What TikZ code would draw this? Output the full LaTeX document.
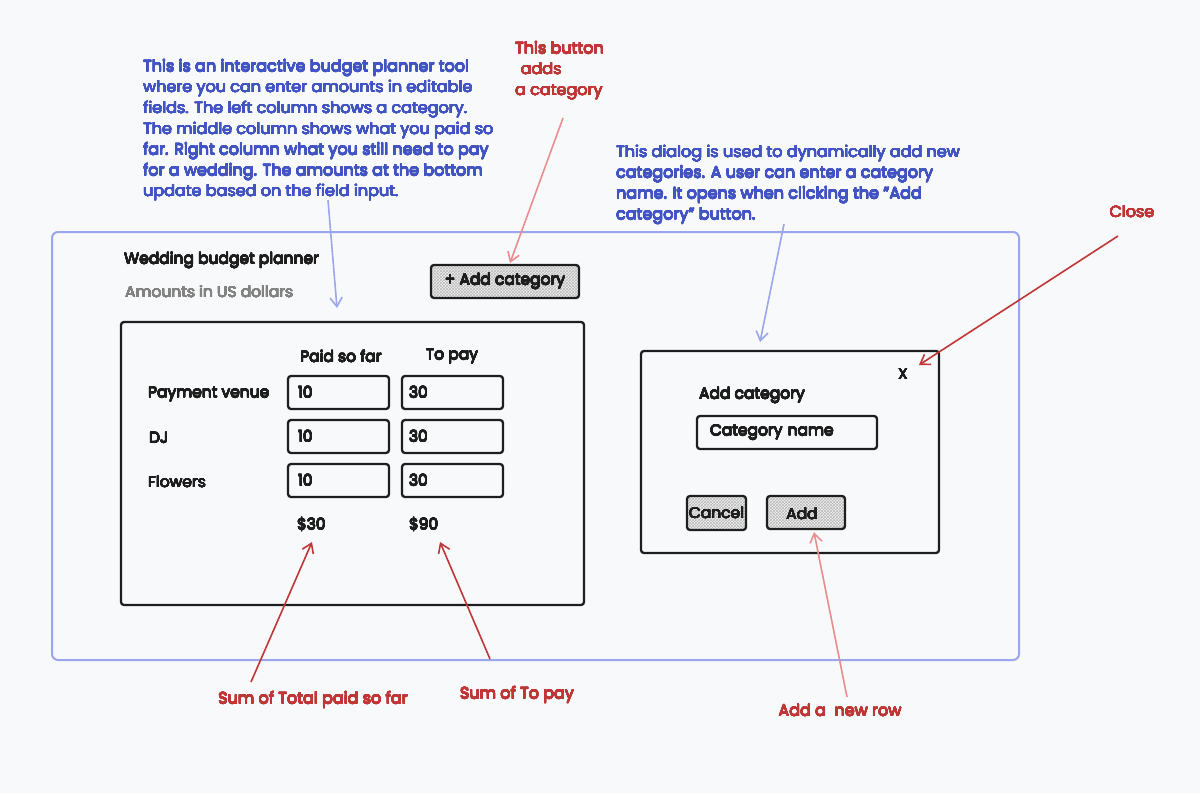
\documentclass[tikz,border=0pt]{standalone}
\usepackage{fontspec}
\setmainfont{Poppins}
\usepackage[copies]{contour}
\contourlength{0.27pt}
\contournumber{16}
\usetikzlibrary{arrows.meta,patterns}
\definecolor{bgc}{RGB}{248,249,251}
\definecolor{annblue}{RGB}{66,84,196}
\definecolor{annred}{RGB}{192,54,54}
\definecolor{pinkred}{RGB}{232,142,142}
\definecolor{lblue}{RGB}{155,166,236}
\definecolor{graytxt}{RGB}{130,130,130}
\definecolor{ink}{RGB}{30,30,30}
\newcommand\fsz[2]{\fontsize{#1}{#2}\selectfont}
\newcommand\hv[1]{\contour{.}{#1}}
\tikzset{
  annb/.style={text=annblue, align=left, font=\fsz{16}{20.8}, inner sep=0, anchor=north west},
  annr/.style={text=annred, align=left, font=\fsz{16}{20.8}, inner sep=0},
  lbl/.style={text=ink, font=\fsz{15.5}{18}, inner sep=0},
  panel/.style={draw=ink, line width=2.3pt, rounded corners=3pt},
  field/.style={draw=ink, line width=2.3pt, rounded corners=3pt, minimum height=33pt, text=ink, font=\fsz{15.5}{18}, align=left, inner ysep=0},
  hatchbtn/.style={draw=ink, line width=2.3pt, rounded corners=3pt, preaction={fill=gray!12}, pattern=crosshatch, pattern color=gray!55, text=ink, font=\fsz{15.5}{18}, inner sep=0},
  redarrow/.style={draw=annred, line width=1.6pt, -{Straight Barb[length=9pt,width=12pt]}},
  pinkarrow/.style={draw=pinkred, line width=1.6pt, -{Straight Barb[length=9pt,width=12pt]}},
  bluearrow/.style={draw=lblue, line width=1.6pt, -{Straight Barb[length=9pt,width=12pt]}},
}
\begin{document}
\begin{tikzpicture}[x=1pt,y=-1pt]
\useasboundingbox (0,0) rectangle (1200,793);
\fill[bgc] (0,0) rectangle (1200,793);

% outer frame
\draw[lblue, line width=2pt, rounded corners=6pt] (52,232) rectangle (1019,660);

% annotations
\node[annb] (ann1) at (143,59.5) {\hv{This is an interactive budget planner tool}\\\hv{where you can enter amounts in editable}\\\hv{fields. The left column shows a category.}\\\hv{The middle column shows what you paid so}\\\hv{far. Right column what you still need to pay}\\\hv{for a wedding. The amounts at the bottom}\\\hv{update based on the field input.}};
\node[annr, anchor=north west] (ann2) at (515,41.5) {\hv{This button}\\\hspace{0.35em}\hv{adds}\\\hv{a category}};
\node[annb] (ann3) at (616,145) {\hv{This dialog is used to dynamically add new}\\\hv{categories. A user can enter a category}\\\hv{name. It opens when clicking the ''Add}\\\hv{category'' button.}};
\node[annr] (closelbl) at (1132,212) {\hv{Close}};

% header
\node[lbl, anchor=west] (title) at (124,260.5) {\hv{Wedding budget planner}};
\node[lbl, anchor=west, text=graytxt] (sub) at (125,292) {\hv{Amounts in US dollars}};
\node[hatchbtn, minimum width=148pt, minimum height=33pt] (addbtn) at (505,281.5) {\hv{+ Add category}};

% main panel
\draw[panel] (121,322) rectangle (584,605);
\node[lbl] (h1) at (341,356.5) {\hv{Paid so far}};
\node[lbl] (h2) at (452,356.5) {\hv{To pay}};
\node[lbl, anchor=west] (r1) at (148,394.5) {\hv{Payment venue}};
\node[lbl, anchor=west] (r2) at (149,438) {\hv{DJ}};
\node[lbl, anchor=west] (r3) at (148,482) {\hv{Flowers}};
\foreach \y/\n in {392.5/1,436.5/2,480.5/3}{
  \node[field, text width=81pt, inner xsep=10pt] (p\n) at (338.5,\y) {\hv{10}};
  \node[field, text width=87pt, inner xsep=7pt] (t\n) at (452.5,\y) {\hv{30}};
}
\node[lbl, anchor=west] (s1) at (297,524.5) {\hv{\$30}};
\node[lbl, anchor=west] (s2) at (409,524.5) {\hv{\$90}};

% dialog
\draw[panel] (641,351) rectangle (939,553);
\node[lbl] (xbtn) at (903,374) {\hv{X}};
\node[lbl, anchor=west] (dtitle) at (699,395.5) {\hv{Add category}};
\node[field, text width=154pt, inner xsep=13pt] (catname) at (787,432.5) {\hv{Category name}};
\node[hatchbtn, minimum width=59pt, minimum height=34pt] (cancel) at (716.5,513) {\hv{Cancel}};
\node[hatchbtn, minimum width=78pt, minimum height=33pt] (addb) at (806,512.5) {};
\node[lbl] (addbtxt) at (802,514) {\hv{Add}};

% bottom labels
\node[annr] (sum1) at (313,700) {\hv{Sum of Total paid so far}};
\node[annr] (sum2) at (517,695) {\hv{Sum of To pay}};
\node[annr] (newrow) at (840,710.5) {\hv{Add a\ \ new row}};

% arrow coordinates
\coordinate (a1s) at (328,200); \coordinate (a1e) at (337,308);
\coordinate (a2s) at (563,118); \coordinate (a2e) at (510,263);
\coordinate (a3s) at (784,224); \coordinate (a3e) at (760,342);
\coordinate (a4s) at (1118,236); \coordinate (a4e) at (919,365);
\coordinate (a5s) at (251,682); \coordinate (a5e) at (312,542);
\coordinate (a6s) at (490,659); \coordinate (a6e) at (440,542);
\coordinate (a7s) at (847,697); \coordinate (a7e) at (814,532);

\draw[bluearrow] (a1s) -- (a1e);
\draw[pinkarrow] (a2s) -- (a2e);
\draw[bluearrow] (a3s) -- (a3e);
\draw[redarrow] (a4s) -- (a4e);
\draw[redarrow] (a5s) -- (a5e);
\draw[redarrow] (a6s) -- (a6e);
\draw[pinkarrow] (a7s) -- (a7e);
\end{tikzpicture}
\end{document}
